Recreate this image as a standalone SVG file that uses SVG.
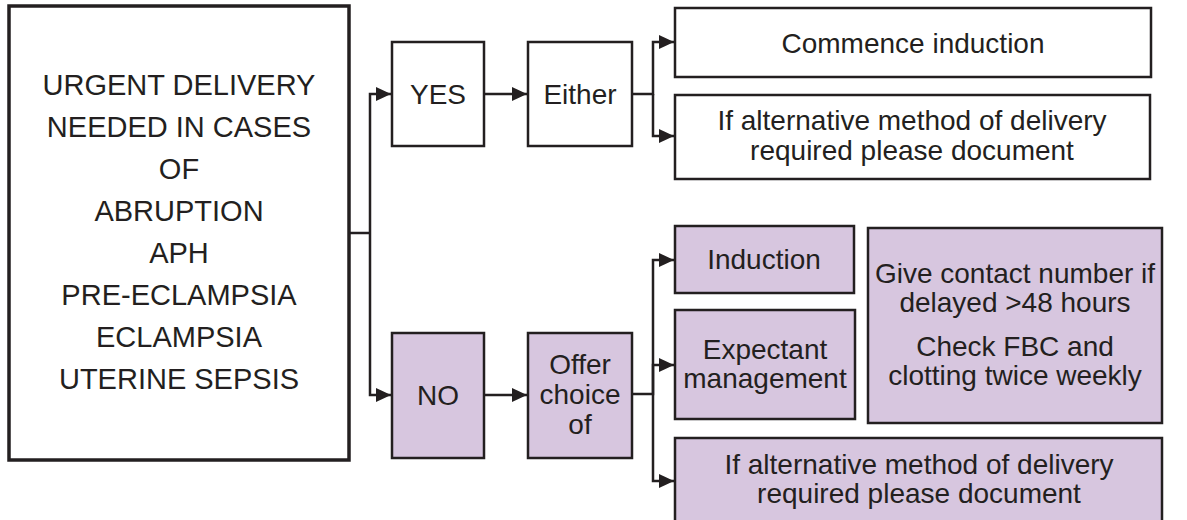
<svg xmlns="http://www.w3.org/2000/svg" width="1187" height="520" viewBox="0 0 1187 520">
<defs>
<marker id="ah" markerUnits="userSpaceOnUse" markerWidth="15" markerHeight="14" refX="15" refY="7" orient="auto">
<path d="M0,0 L15,7 L0,14 z" fill="#231F20"/>
</marker>
</defs>
<style>
.box{fill:#FFFFFF;stroke:#231F20;stroke-width:2.5}
.pbox{fill:#D7C6DF;stroke:#231F20;stroke-width:2.5}
.main{fill:#FFFFFF;stroke:#231F20;stroke-width:3.5}
.t{font-family:"Liberation Sans",Arial,sans-serif;font-size:28px;fill:#231F20;text-anchor:middle}
.tm{font-size:29px}
.c{fill:none;stroke:#231F20;stroke-width:2.5}
.a{marker-end:url(#ah)}
</style>
<rect width="1187" height="520" fill="#FFFFFF"/>
<g id="connectors">
<path class="c" d="M349,233 H370"/>
<path class="c a" d="M370,233 V94 H391"/>
<path class="c a" d="M370,233 V395 H391"/>
<path class="c a" d="M484,94 H527"/>
<path class="c a" d="M632,94 H653 V42 H674"/>
<path class="c a" d="M653,94 V136 H674"/>
<path class="c a" d="M484,395 H527"/>
<path class="c a" d="M632,394 H653 V260 H674"/>
<path class="c a" d="M653,394 V365 H674"/>
<path class="c a" d="M653,394 V481 H674"/>
</g>
<g id="main">
<rect class="main" x="9" y="6" width="340" height="454"/>
<text class="t tm" x="179" y="95">URGENT DELIVERY</text>
<text class="t tm" x="179" y="137">NEEDED IN CASES</text>
<text class="t tm" x="179" y="179">OF</text>
<text class="t tm" x="179" y="221">ABRUPTION</text>
<text class="t tm" x="179" y="263">APH</text>
<text class="t tm" x="179" y="305">PRE-ECLAMPSIA</text>
<text class="t tm" x="179" y="347">ECLAMPSIA</text>
<text class="t tm" x="179" y="389">UTERINE SEPSIS</text>
</g>
<g id="yes">
<rect class="box" x="392" y="42" width="92" height="104"/>
<text class="t" x="438" y="104">YES</text>
</g>
<g id="either">
<rect class="box" x="528" y="42" width="104" height="104"/>
<text class="t" x="580" y="104">Either</text>
</g>
<g id="commence">
<rect class="box" x="675" y="8" width="476" height="69"/>
<text class="t" x="913" y="53">Commence induction</text>
</g>
<g id="alt-yes">
<rect class="box" x="675" y="95" width="475" height="84"/>
<text class="t" x="912" y="130">If alternative method of delivery</text>
<text class="t" x="912" y="160">required please document</text>
</g>
<g id="no">
<rect class="pbox" x="392" y="333" width="92" height="125"/>
<text class="t" x="438" y="405">NO</text>
</g>
<g id="offer">
<rect class="pbox" x="528" y="333" width="104" height="125"/>
<text class="t" x="580" y="374">Offer</text>
<text class="t" x="580" y="404">choice</text>
<text class="t" x="580" y="434">of</text>
</g>
<g id="induction">
<rect class="pbox" x="675" y="226" width="179" height="67"/>
<text class="t" x="764" y="269">Induction</text>
</g>
<g id="expectant">
<rect class="pbox" x="675" y="310" width="180" height="109"/>
<text class="t" x="765" y="359">Expectant</text>
<text class="t" x="765" y="388">management</text>
</g>
<g id="contact">
<rect class="pbox" x="868" y="228" width="294" height="195"/>
<text class="t" x="1015" y="283">Give contact number if</text>
<text class="t" x="1015" y="312">delayed &gt;48 hours</text>
<text class="t" x="1015" y="356">Check FBC and</text>
<text class="t" x="1015" y="385">clotting twice weekly</text>
</g>
<g id="alt-no">
<rect class="pbox" x="675" y="438" width="487" height="100"/>
<text class="t" x="919" y="474">If alternative method of delivery</text>
<text class="t" x="919" y="503">required please document</text>
</g>
</svg>
